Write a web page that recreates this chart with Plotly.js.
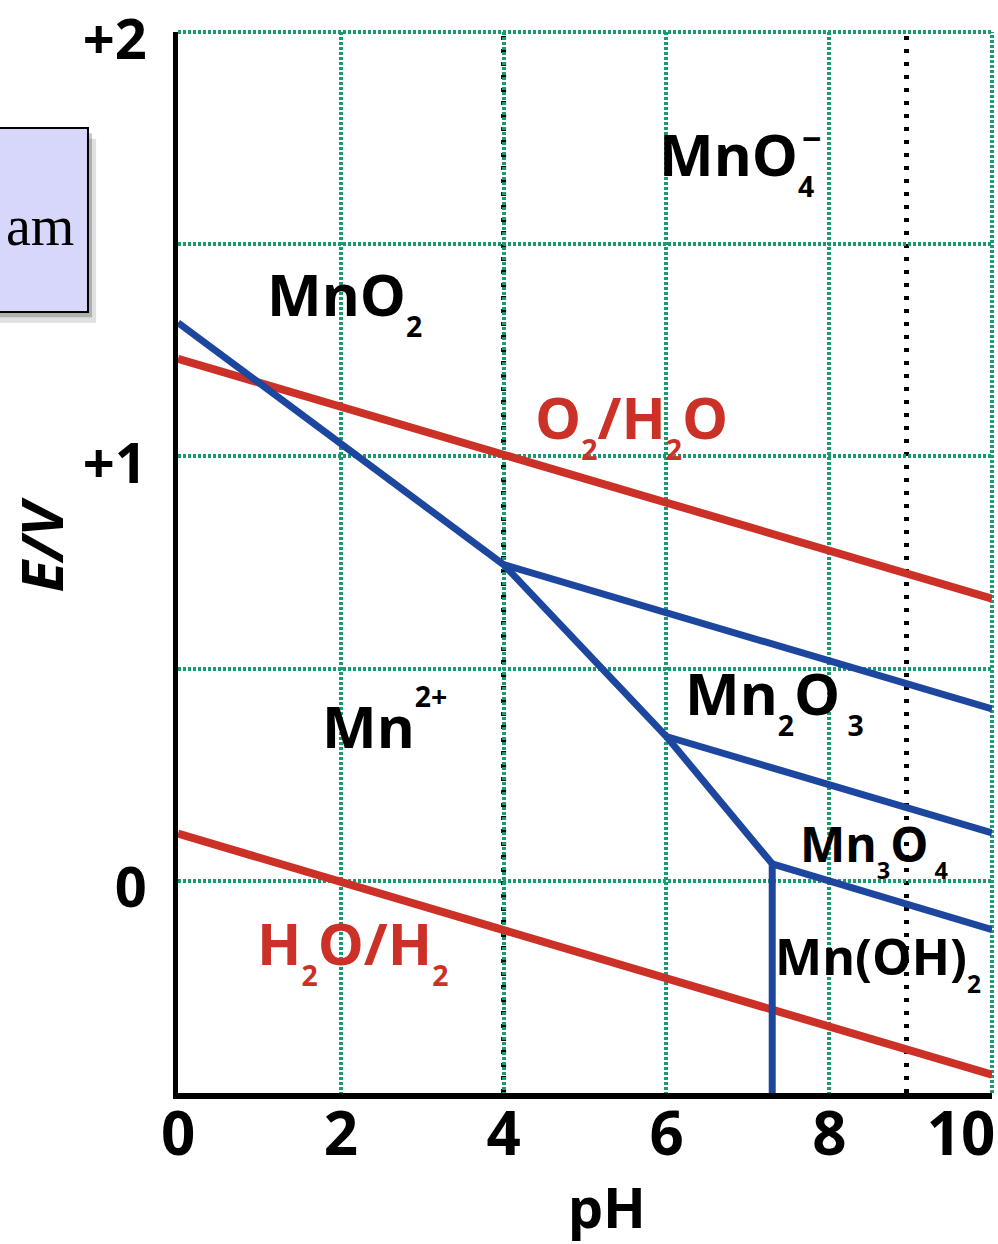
<!DOCTYPE html>
<html>
<head>
<meta charset="utf-8">
<script src="https://cdn.plot.ly/plotly-3.0.1.min.js"></script>
<style>html,body{margin:0;padding:0;background:#fff;}#chart{width:998px;height:1244px;}</style>
</head>
<body>
<div id="chart"></div>
<script>
// ---- data ----
const xTickVals = [0, 2, 4, 6, 8, 10];
const xTickText = ["0", "2", "4", "6", "8", "10"];
const yTickVals = [-0.5, 0, 0.5, 1, 1.5, 2];
const yTickText = ["", "0", "", "+1", "", "+2"];

// Mn boundaries (blue)
const mnBoundary_pH = [0, 4.0, 6.0, 7.3, 7.3];
const mnBoundary_E  = [1.315, 0.745, 0.34, 0.04, -0.5];
const mnO2Mn2O3_pH = [4.0, 10];
const mnO2Mn2O3_E  = [0.745, 0.405];
const mn2O3Mn3O4_pH = [6.0, 10];
const mn2O3Mn3O4_E  = [0.34, 0.113];
const mn3O4MnOH2_pH = [7.3, 10];
const mn3O4MnOH2_E  = [0.04, -0.115];

// water stability lines (red)
const o2h2o_pH = [0, 10];
const o2h2o_E  = [1.23, 0.665];
const h2oh2_pH = [0, 10];
const h2oh2_E  = [0.111, -0.457];

// black dotted reference pH lines
const refLines_pH = [4, 8.95];

// species labels
const labelText = [
  "MnO<sub><sub>4</sub></sub>",
  "MnO<sub><sub>2</sub></sub>",
  "O<sub><sub>2</sub></sub>/H<sub><sub>2</sub></sub>O",
  "Mn<sup><sup>2+</sup></sup>",
  "Mn<sub><sub>2</sub></sub>O<sub><sub>&nbsp;3</sub></sub>",
  "Mn<sub><sub>3</sub></sub>O<sub><sub>&nbsp;4</sub></sub>",
  "Mn(OH)<sub><sub>2</sub></sub>",
  "H<sub><sub>2</sub></sub>O/H<sub><sub>2</sub></sub>"
];
const label_pH = [5.88, 1.07, 4.36, 1.75, 6.20, 7.62, 7.31, 0.95];
const label_E  = [1.70, 1.37, 1.08, 0.376, 0.43, 0.075, -0.19, -0.16];
const labelColor = ["#000", "#000", "#cc3128", "#000", "#000", "#000", "#000", "#cc3128"];
const labelSize = [58, 58, 58, 58, 58, 48, 50, 58];

const BLUE = "#1d479f";
const RED = "#cc3128";
const GREEN = "#1a9a70";
const FONT = "Open Sans, Noto Sans, DejaVu Sans, sans-serif";
const NB4 = "&nbsp;&nbsp;&nbsp;&nbsp;";

const traces = [
  {x: o2h2o_pH, y: o2h2o_E, mode: "lines", line: {color: RED, width: 8}, name: "O2/H2O"},
  {x: h2oh2_pH, y: h2oh2_E, mode: "lines", line: {color: RED, width: 8}, name: "H2O/H2"},
  {x: mnBoundary_pH, y: mnBoundary_E, mode: "lines", line: {color: BLUE, width: 7}, name: "MnO2/Mn2+"},
  {x: mnO2Mn2O3_pH, y: mnO2Mn2O3_E, mode: "lines", line: {color: BLUE, width: 7}, name: "MnO2/Mn2O3"},
  {x: mn2O3Mn3O4_pH, y: mn2O3Mn3O4_E, mode: "lines", line: {color: BLUE, width: 7}, name: "Mn2O3/Mn3O4"},
  {x: mn3O4MnOH2_pH, y: mn3O4MnOH2_E, mode: "lines", line: {color: BLUE, width: 7}, name: "Mn3O4/Mn(OH)2"}
];

const annotations = labelText.map((t, i) => ({
  text: t, x: label_pH[i], y: label_E[i], xref: "x", yref: "y",
  xanchor: "left", yanchor: "middle", showarrow: false,
  font: {family: FONT, size: labelSize[i], color: labelColor[i], weight: "bold"}
}));
// charge sign of permanganate, stacked above the subscript
annotations.push({text: "−", x: 7.78, y: 1.75, xref: "x", yref: "y", xanchor: "center", yanchor: "middle",
  showarrow: false, font: {family: FONT, size: 34, color: "#000", weight: "bold"}});
// fragment of the slide's title box
annotations.push({text: "am", x: -0.1265, y: 0.817, xref: "paper", yref: "paper", xanchor: "right", yanchor: "middle",
  showarrow: false, borderpad: 0, font: {family: "Liberation Serif, DejaVu Serif, serif", size: 56, color: "#000"}});

const gridLine = {color: GREEN, width: 4, dash: "3px,2px"};
const shapes = [
  // edge grid lines (top at +2 V, right at pH 10)
  {type: "line", xref: "paper", yref: "paper", x0: 0, x1: 1, y0: 1, y1: 1, layer: "below", line: gridLine},
  {type: "line", xref: "paper", yref: "paper", x0: 1, x1: 1, y0: 0, y1: 1, layer: "below", line: gridLine}
];
refLines_pH.forEach(p => shapes.push({
  type: "line", xref: "x", yref: "paper", x0: p, x1: p, y0: 0, y1: 1, layer: "between",
  line: {color: "#000", width: 5, dash: "4px,9px"}
}));
shapes.push({type: "rect", xref: "paper", yref: "paper", x0: -0.3, x1: -0.1006, y0: 0.726, y1: 0.8995,
  fillcolor: "rgba(0,0,0,0.12)", line: {width: 0}, layer: "above"});
shapes.push({type: "rect", xref: "paper", yref: "paper", x0: -0.3, x1: -0.1056, y0: 0.7311, y1: 0.9045,
  fillcolor: "rgba(0,0,0,0.22)", line: {width: 0}, layer: "above"});
shapes.push({type: "rect", xref: "paper", yref: "paper", x0: -0.3, x1: -0.1106, y0: 0.7361, y1: 0.9095,
  fillcolor: "#d7d7fb", line: {color: "#000", width: 2}, layer: "above"});

const layout = {
  width: 998, height: 1244,
  margin: {l: 178, r: 6, t: 32, b: 151},
  paper_bgcolor: "#fff", plot_bgcolor: "rgba(0,0,0,0)",
  showlegend: false,
  font: {family: FONT, color: "#000"},
  xaxis: {
    range: [0, 10], tickvals: xTickVals,
    ticktext: xTickText.map(t => t.length === 1 ? NB4 + t : t),
    ticks: "", ticklen: 0, ticklabelstandoff: -16, ticklabelshift: -31, ticklabeloverflow: "allow",
    tickfont: {family: FONT, size: 60, color: "#000", weight: "bold"},
    showgrid: true, gridcolor: GREEN, gridwidth: 4, griddash: "3px,2px",
    zeroline: false, showline: true, linecolor: "#000", linewidth: 6,
    title: {text: "&nbsp;&nbsp;&nbsp;pH", font: {family: FONT, size: 56, color: "#000", weight: "bold"}, standoff: 30}
  },
  yaxis: {
    range: [-0.5, 2], tickvals: yTickVals, ticktext: yTickText,
    ticks: "", ticklen: 0, ticklabelstandoff: 15, ticklabelshift: 7, ticklabeloverflow: "allow",
    tickfont: {family: FONT, size: 56, color: "#000", weight: "bold"},
    showgrid: true, gridcolor: GREEN, gridwidth: 4, griddash: "3px,2px",
    zeroline: false, showline: true, linecolor: "#000", linewidth: 5,
    title: {text: "&nbsp;&nbsp;E/V", font: {family: FONT, size: 58, color: "#000", weight: "bold", style: "italic"}, standoff: 2}
  },
  shapes: shapes,
  annotations: annotations
};

Plotly.newPlot("chart", traces, layout, {displayModeBar: false, responsive: false});
</script>
</body>
</html>
